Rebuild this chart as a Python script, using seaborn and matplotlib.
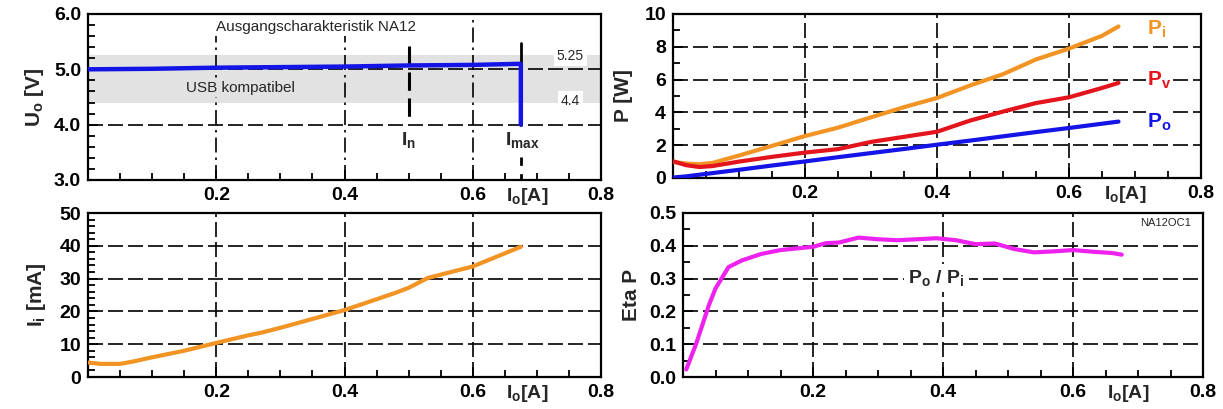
import numpy as np
import pandas as pd
import matplotlib
matplotlib.use("Agg")
import matplotlib.pyplot as plt
import matplotlib.transforms as mtrans
from matplotlib.ticker import MultipleLocator, FixedLocator, FormatStrFormatter
import seaborn as sns

sns.set_theme(style="ticks")
plt.rcParams["font.family"] = ["Liberation Sans", "DejaVu Sans"]
plt.rcParams["font.weight"] = "bold"
plt.rcParams["mathtext.fontset"] = "custom"
plt.rcParams["mathtext.rm"] = "Liberation Sans"
plt.rcParams["mathtext.bf"] = "Liberation Sans:bold"
plt.rcParams["mathtext.it"] = "Liberation Sans:italic"

# ---------------- data ----------------
# Output voltage characteristic
u_x = [0.0, 0.1, 0.2, 0.3, 0.4, 0.5, 0.6, 0.675, 0.675]
u_v = [5.00, 5.01, 5.03, 5.04, 5.05, 5.07, 5.08, 5.10, 4.00]
i_n = 0.5
i_max = 0.675
usb_lo, usb_hi = 4.4, 5.25

# Power curves
p_x = [0.0, 0.02, 0.04, 0.06, 0.1, 0.15, 0.2, 0.25, 0.3, 0.35, 0.4, 0.45, 0.5, 0.55, 0.6, 0.65, 0.675]
p_i = [0.98, 0.88, 0.84, 0.92, 1.37, 1.96, 2.56, 3.07, 3.70, 4.32, 4.88, 5.64, 6.33, 7.23, 7.89, 8.67, 9.24]
p_v = [1.02, 0.78, 0.67, 0.73, 1.00, 1.29, 1.55, 1.76, 2.20, 2.51, 2.82, 3.50, 4.05, 4.57, 4.92, 5.49, 5.80]
p_o = [0.03, 0.10, 0.20, 0.30, 0.50, 0.76, 1.01, 1.27, 1.52, 1.77, 2.03, 2.28, 2.54, 2.80, 3.05, 3.31, 3.44]

# Input current
ii_x = [0.0, 0.02, 0.05, 0.07, 0.1, 0.15, 0.2, 0.25, 0.27, 0.3, 0.35, 0.4, 0.45, 0.48, 0.5, 0.53, 0.55, 0.6, 0.65, 0.675]
ii_v = [4.4, 4.0, 4.0, 4.7, 6.0, 8.0, 10.4, 12.7, 13.5, 15.0, 17.7, 20.4, 23.7, 25.7, 27.2, 30.2, 31.2, 33.7, 37.7, 39.7]

# Efficiency
eta_x = [0.005, 0.02, 0.04, 0.05, 0.07, 0.09, 0.12, 0.15, 0.2, 0.22, 0.24, 0.27, 0.3, 0.33, 0.36, 0.39,
         0.42, 0.45, 0.48, 0.51, 0.54, 0.57, 0.6, 0.63, 0.66, 0.675]
eta_v = [0.023, 0.10, 0.22, 0.27, 0.335, 0.355, 0.375, 0.387, 0.397, 0.408, 0.41, 0.425, 0.42, 0.417,
         0.42, 0.423, 0.417, 0.405, 0.407, 0.39, 0.38, 0.383, 0.387, 0.382, 0.378, 0.373]

x_ticks = [0.2, 0.4, 0.6, 0.8]
x_ticklabels = ["0.2", "0.4", "0.6", "0.8"]

C_OR = "#F29424"
C_RED = "#E3141C"
C_BLUE = "#1414E6"
C_MAG = "#EE22EE"

W, H = 1223, 409
fig = plt.figure(figsize=(W / 100, H / 100), dpi=100)


def ax_px(x0, y0, x1, y1):
    return fig.add_axes([x0 / W, 1 - y1 / H, (x1 - x0) / W, (y1 - y0) / H])


def style(ax, ylim, ymaj, ymin, fmt, vgrid_ls=(0, (9, 3))):
    ax.set_xlim(0, 0.8)
    ax.set_ylim(*ylim)
    ax.xaxis.set_major_locator(FixedLocator(x_ticks))
    ax.set_xticklabels(x_ticklabels)
    ax.xaxis.set_minor_locator(MultipleLocator(0.05))
    ax.yaxis.set_major_locator(MultipleLocator(ymaj))
    ax.yaxis.set_minor_locator(MultipleLocator(ymin))
    ax.yaxis.set_major_formatter(FormatStrFormatter(fmt))
    ax.tick_params(which="both", direction="in", top=False, right=False, width=1.3,
                   labelsize=14, pad=5, colors="black")
    ax.tick_params(which="major", length=7)
    ax.tick_params(which="minor", length=5)
    for lbl in ax.get_xticklabels() + ax.get_yticklabels():
        lbl.set_fontweight("bold")
    for s in ax.spines.values():
        s.set_linewidth(1.6)
        s.set_color("black")
        s.set_visible(True)
    ax.set_axisbelow(True)
    ax.yaxis.grid(True, which="major", color="black", lw=1.2, ls=(0, (9, 3)))
    ax.xaxis.grid(True, which="major", color="black", lw=1.2, ls=vgrid_ls)
    ax.set_xlabel("")
    tr = mtrans.blended_transform_factory(ax.transData, ax.transAxes)
    ax.text(0.685, -0.035, r"$\mathbf{I_o}$[A]", transform=tr, ha="center", va="top",
            fontsize=14, fontweight="bold")


# ---------------- top left: output voltage ----------------
ax1 = ax_px(88, 14, 601, 180)
ax1.axhspan(usb_lo, usb_hi, color="#e2e2e2", zorder=0.2, lw=0)
sns.lineplot(x=u_x, y=u_v, ax=ax1, color=C_BLUE, lw=3.2, estimator=None, sort=False, zorder=5)
style(ax1, (3.0, 6.0), 1.0, 0.2, "%.1f", vgrid_ls=(0, (9, 3, 1.5, 3)))
ax1.set_ylabel(r"$\mathbf{U_o}$ [V]", fontsize=15, fontweight="bold", labelpad=6)
ax1.plot([i_n, i_n], [5.42, 4.05], color="black", lw=2.2, ls=(0, (6, 2.5)), zorder=4)
ax1.plot([i_max, i_max], [5.48, 4.0], color="black", lw=2.0, zorder=4)
ax1.plot([i_max, i_max], [3.42, 3.0], color="black", lw=2.0, ls=(0, (3, 3)), zorder=4)
ax1.text(i_n, 3.72, r"$\mathbf{I_n}$", ha="center", va="center", fontsize=14,
         bbox=dict(fc="white", ec="none", pad=0.5), zorder=6)
ax1.text(i_max + 0.003, 3.72, r"$\mathbf{I_{max}}$", ha="center", va="center", fontsize=14,
         bbox=dict(fc="white", ec="none", pad=0.5), zorder=6)
ax1.text(0.356, 5.76, "Ausgangscharakteristik NA12", ha="center", va="center", fontsize=11,
         fontweight="normal", bbox=dict(fc="white", ec="none", pad=1), zorder=6)
ax1.text(0.237, 4.66, "USB kompatibel", ha="center", va="center", fontsize=11,
         fontweight="normal", bbox=dict(fc="#e2e2e2", ec="none", pad=1), zorder=6)
ax1.text(0.752, 5.24, "5.25", ha="center", va="center", fontsize=10, fontweight="normal",
         bbox=dict(fc="white", ec="none", pad=2), zorder=6)
ax1.text(0.752, 4.43, "4.4", ha="center", va="center", fontsize=10, fontweight="normal",
         bbox=dict(fc="white", ec="none", pad=2), zorder=6)

# ---------------- top right: powers ----------------
ax2 = ax_px(673, 14, 1201, 178)
dfp = pd.DataFrame({"x": p_x, "Pi": p_i, "Pv": p_v, "Po": p_o})
sns.lineplot(data=dfp, x="x", y="Pi", ax=ax2, color=C_OR, lw=3, estimator=None, zorder=5)
sns.lineplot(data=dfp, x="x", y="Pv", ax=ax2, color=C_RED, lw=3, estimator=None, zorder=5)
sns.lineplot(data=dfp, x="x", y="Po", ax=ax2, color=C_BLUE, lw=3, estimator=None, zorder=5)
style(ax2, (0, 10), 2, 1, "%d")
ax2.set_ylabel("P [W]", fontsize=15, fontweight="bold", labelpad=8)
ax2.text(0.718, 9.05, r"$\mathbf{P_i}$", color=C_OR, fontsize=15, ha="left", va="center",
         bbox=dict(fc="white", ec="none", pad=0.5), zorder=6)
ax2.text(0.718, 5.95, r"$\mathbf{P_v}$", color=C_RED, fontsize=15, ha="left", va="center",
         bbox=dict(fc="white", ec="none", pad=0.5), zorder=6)
ax2.text(0.718, 3.4, r"$\mathbf{P_o}$", color=C_BLUE, fontsize=15, ha="left", va="center",
         bbox=dict(fc="white", ec="none", pad=0.5), zorder=6)

# ---------------- bottom left: input current ----------------
ax3 = ax_px(88, 213, 601, 377)
sns.lineplot(x=ii_x, y=ii_v, ax=ax3, color=C_OR, lw=3, estimator=None, zorder=5)
style(ax3, (0, 50), 10, 2, "%d")
ax3.set_ylabel(r"$\mathbf{I_i}$ [mA]", fontsize=15, fontweight="bold", labelpad=8)

# ---------------- bottom right: efficiency ----------------
ax4 = ax_px(683, 213, 1203, 377)
sns.lineplot(x=eta_x, y=eta_v, ax=ax4, color=C_MAG, lw=3, estimator=None, zorder=5)
style(ax4, (0, 0.5), 0.1, 0.05, "%.1f")
ax4.set_ylabel("Eta P", fontsize=15, fontweight="bold", labelpad=6)
ax4.text(0.39, 0.303, r"$\mathbf{P_o}$ / $\mathbf{P_i}$", ha="center", va="center", fontsize=14,
         bbox=dict(fc="white", ec="none", pad=3), zorder=6)
ax4.text(0.743, 0.468, "NA12OC1", ha="center", va="center", fontsize=8, fontweight="normal",
         bbox=dict(fc="white", ec="none", pad=1), zorder=6)

fig.savefig("out.png", dpi=100, facecolor="white")
